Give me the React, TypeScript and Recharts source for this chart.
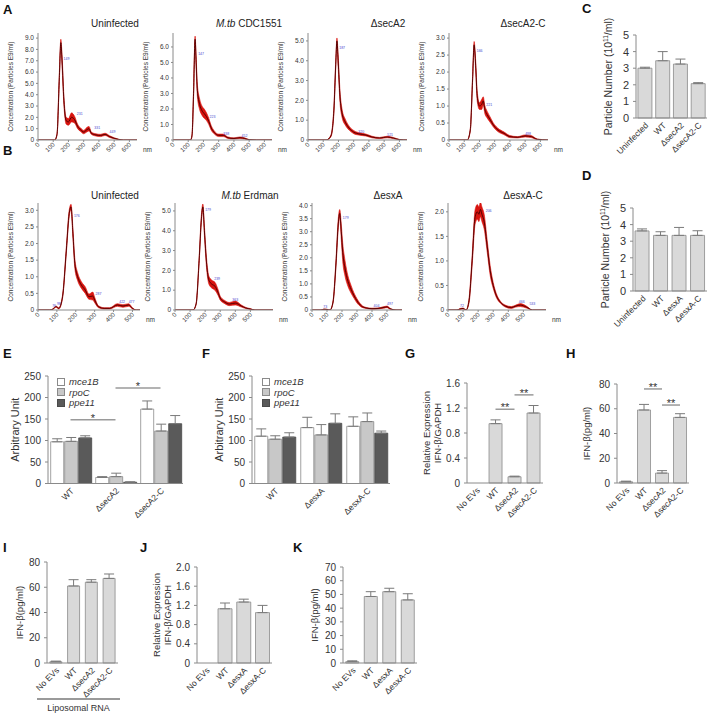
import React from "react";
import {
  Area,
  Bar,
  BarChart,
  ComposedChart,
  ErrorBar,
  Label,
  Line,
  ReferenceDot,
  ReferenceLine,
  XAxis,
  YAxis,
} from "recharts";

const FONT = "Arial, 'Liberation Sans', Helvetica, sans-serif";
const AXIS = "#8a8a8a";
const INK = "#333";
const BAND = "#d8140f";
const CORE = "#4a0000";
const PEAK = "#4848d0";
const BAR_FILL = "#d9d9d9";
const BAR_EDGE = "#8a8a8a";

// ---------- nanoparticle tracking traces: size (nm), mean, +/- spread ----------
const a1Nm = [0, 110, 125, 140, 150, 158, 170, 185, 200, 220, 240, 260, 280, 300, 320, 335, 350, 380, 410, 440, 470, 500, 530, 560, 650];
const a1Mean = [0, 0, 0.5, 5.5, 8.6, 7.0, 3.5, 1.7, 1.6, 2.0, 1.8, 1.2, 0.9, 0.7, 0.9, 1.0, 0.6, 0.45, 0.4, 0.5, 0.3, 0.15, 0.05, 0, 0];
const a1Spread = [0, 0, 0.1, 0.4, 0.3, 0.5, 0.4, 0.3, 0.3, 0.4, 0.3, 0.2, 0.15, 0.15, 0.2, 0.2, 0.1, 0.1, 0.1, 0.1, 0.08, 0.05, 0.02, 0, 0];
const a1Peaks: [number, number, string][] = [[168, 7.1, "149"], [255, 2.2, "231"], [370, 0.95, "331"], [470, 0.6, "449"]];

const a2Nm = [0, 115, 125, 135, 145, 152, 160, 175, 190, 205, 220, 235, 250, 270, 300, 330, 360, 400, 440, 470, 500, 550, 650];
const a2Mean = [0, 0, 0.3, 3.0, 6.5, 5.0, 3.2, 2.3, 1.9, 1.7, 1.5, 1.2, 0.8, 0.5, 0.3, 0.3, 0.15, 0.1, 0.15, 0.1, 0.02, 0, 0];
const a2Spread = [0, 0, 0.1, 0.3, 0.2, 0.4, 0.4, 0.35, 0.3, 0.3, 0.25, 0.2, 0.15, 0.1, 0.08, 0.08, 0.05, 0.04, 0.05, 0.04, 0.01, 0, 0];
const a2Peaks: [number, number, string][] = [[165, 5.5, "147"], [240, 1.4, "223"], [330, 0.35, "338"], [450, 0.2, "452"]];

const a3Nm = [0, 120, 150, 170, 182, 190, 198, 210, 225, 245, 270, 300, 340, 380, 420, 470, 520, 560, 600, 650];
const a3Mean = [0, 0, 0.2, 1.5, 3.8, 5.0, 4.0, 2.2, 1.3, 0.9, 0.6, 0.4, 0.3, 0.25, 0.15, 0.1, 0.15, 0.1, 0.02, 0];
const a3Spread = [0, 0, 0.05, 0.2, 0.2, 0.15, 0.3, 0.3, 0.2, 0.15, 0.1, 0.08, 0.06, 0.05, 0.04, 0.03, 0.04, 0.03, 0.01, 0];
const a3Peaks: [number, number, string][] = [[205, 4.6, "187"], [330, 0.35, "320"], [520, 0.2, "521"]];

const a4Nm = [0, 120, 140, 155, 165, 175, 185, 200, 215, 225, 235, 250, 270, 290, 320, 360, 400, 450, 500, 540, 580, 650];
const a4Mean = [0, 0, 0.3, 1.8, 2.8, 2.2, 1.3, 1.0, 1.05, 1.15, 0.9, 0.75, 0.6, 0.45, 0.3, 0.2, 0.1, 0.08, 0.12, 0.1, 0.02, 0];
const a4Spread = [0, 0, 0.05, 0.1, 0.1, 0.15, 0.15, 0.1, 0.15, 0.12, 0.12, 0.1, 0.08, 0.06, 0.05, 0.04, 0.03, 0.02, 0.03, 0.03, 0.01, 0];
const a4Peaks: [number, number, string][] = [[182, 2.6, "166"], [245, 1.0, "221"], [500, 0.15, "498"]];

const b1Nm = [0, 60, 80, 95, 110, 130, 150, 165, 175, 185, 195, 210, 230, 250, 270, 290, 300, 320, 350, 380, 420, 450, 480, 500, 520, 540];
const b1Mean = [0, 0, 0.03, 0.1, 0.05, 0.4, 1.8, 2.9, 3.1, 2.3, 1.4, 1.0, 0.75, 0.6, 0.4, 0.42, 0.3, 0.1, 0.05, 0.05, 0.15, 0.12, 0.15, 0.05, 0, 0];
const b1Spread = [0, 0, 0.01, 0.02, 0.02, 0.05, 0.1, 0.1, 0.08, 0.15, 0.15, 0.12, 0.1, 0.1, 0.08, 0.12, 0.08, 0.03, 0.02, 0.02, 0.04, 0.04, 0.04, 0.02, 0, 0];
const b1Peaks: [number, number, string][] = [[75, 0.08, "76"], [100, 0.15, "98"], [190, 2.8, "176"], [305, 0.45, "287"], [430, 0.2, "422"], [480, 0.22, "477"]];

const b2Nm = [0, 100, 120, 140, 160, 175, 185, 195, 210, 225, 245, 265, 285, 300, 330, 360, 400, 440, 470, 500, 530, 650];
const b2Mean = [0, 0, 0, 0.3, 2.5, 4.6, 5.2, 4.0, 2.3, 1.5, 1.3, 1.2, 0.9, 0.6, 0.4, 0.3, 0.35, 0.2, 0.1, 0.05, 0, 0];
const b2Spread = [0, 0, 0, 0.05, 0.15, 0.2, 0.15, 0.25, 0.25, 0.2, 0.2, 0.2, 0.15, 0.1, 0.08, 0.08, 0.1, 0.05, 0.03, 0.02, 0, 0];
const b2Peaks: [number, number, string][] = [[200, 5.0, "179"], [260, 1.5, "239"], [380, 0.45, "363"]];

const b3Nm = [0, 60, 80, 100, 120, 140, 160, 175, 185, 195, 205, 220, 240, 260, 280, 300, 330, 360, 400, 440, 480, 500, 520, 560, 600];
const b3Mean = [0, 0, 0.03, 0.02, 0, 0.3, 1.8, 3.3, 3.7, 3.0, 2.2, 1.6, 1.1, 0.8, 0.55, 0.35, 0.15, 0.08, 0.05, 0.06, 0.1, 0.12, 0.05, 0, 0];
const b3Spread = [0, 0, 0.01, 0.01, 0, 0.05, 0.15, 0.2, 0.15, 0.3, 0.35, 0.3, 0.2, 0.15, 0.1, 0.08, 0.04, 0.02, 0.02, 0.02, 0.03, 0.03, 0.02, 0, 0];
const b3Peaks: [number, number, string][] = [[75, 0.08, "73"], [205, 3.5, "179"], [410, 0.12, "404"], [500, 0.18, "497"]];

const b4Nm = [0, 60, 80, 100, 120, 140, 160, 180, 195, 205, 215, 225, 240, 260, 280, 300, 320, 350, 380, 420, 450, 480, 520, 560, 650];
const b4Mean = [0, 0, 0.02, 0.03, 0, 0.2, 1.0, 1.9, 2.0, 1.95, 2.05, 1.95, 1.8, 1.3, 0.8, 0.5, 0.3, 0.15, 0.08, 0.05, 0.08, 0.1, 0.06, 0, 0];
const b4Spread = [0, 0, 0.01, 0.01, 0, 0.05, 0.1, 0.15, 0.15, 0.15, 0.15, 0.15, 0.15, 0.12, 0.1, 0.06, 0.04, 0.02, 0.02, 0.02, 0.02, 0.03, 0.02, 0, 0];
const b4Peaks: [number, number, string][] = [[80, 0.06, "72"], [250, 2.0, "206"], [470, 0.14, "466"], [540, 0.1, "533"]];

const nmTicks600 = [0, 100, 200, 300, 400, 500, 600];
const nmTicks500 = [0, 100, 200, 300, 400, 500];
const a1Ticks = [0, 1, 2, 3, 4, 5, 6, 7, 8, 9];
const a2Ticks = [0, 1, 2, 3, 4, 5, 6];
const a3Ticks = [0, 1, 2, 3, 4, 5];
const a4Ticks = [0, 0.5, 1, 1.5, 2, 2.5, 3];
const b1Ticks = [0, 0.5, 1, 1.5, 2, 2.5, 3];
const b2Ticks = [0, 1, 2, 3, 4, 5];
const b3Ticks = [0, 0.5, 1, 1.5, 2, 2.5, 3, 3.5, 4];
const b4Ticks = [0, 0.5, 1, 1.5, 2];

// ---------- bar panels ----------
const secCats = ["Uninfected", "WT", "\u0394secA2", "\u0394secA2-C"];
const esxCats = ["Uninfected", "WT", "\u0394esxA", "\u0394esxA-C"];
const cVals = [3.0, 3.45, 3.25, 2.07];
const cErrs = [0.06, 0.55, 0.3, 0.06];
const dVals = [3.62, 3.35, 3.35, 3.35];
const dErrs = [0.12, 0.22, 0.48, 0.28];
const particleTicks = [0, 1, 2, 3, 4, 5];

const eCats = ["WT", "\u0394secA2", "\u0394secA2-C"];
const eMce1B = [97, 14, 173];
const eMce1BErr = [7, 2, 19];
const eRpoC = [98, 16, 122];
const eRpoCErr = [9, 8, 16];
const ePpe11 = [106, 3, 139];
const ePpe11Err = [5, 1, 19];

const fCats = ["WT", "\u0394esxA", "\u0394esxA-C"];
const fMce1B = [110, 130, 133];
const fMce1BErr = [17, 24, 22];
const fRpoC = [103, 113, 144];
const fRpoCErr = [8, 24, 20];
const fPpe11 = [108, 140, 117];
const fPpe11Err = [10, 22, 5];
const geneTicks = [0, 50, 100, 150, 200, 250];
const geneNames = ["mce1B", "rpoC", "ppe11"];

const gCats = ["No EVs", "WT", "\u0394secA2", "\u0394secA2-C"];
const gVals = [0, 0.95, 0.1, 1.12];
const gErrs = [0, 0.06, 0.01, 0.12];
const gTicks = [0, 0.4, 0.8, 1.2, 1.6];

const hVals = [1, 59, 8, 53];
const hErrs = [0.5, 4.5, 2, 3];
const hTicks = [0, 20, 40, 60, 80];

const iVals = [1, 61, 64, 67];
const iErrs = [0.5, 5, 2, 3.5];

const jCats = ["No EVs", "WT", "\u0394esxA", "\u0394esxA-C"];
const jVals = [0, 1.13, 1.27, 1.05];
const jErrs = [0, 0.12, 0.06, 0.15];
const jTicks = [0, 0.4, 0.8, 1.2, 1.6, 2.0];

const kVals = [1, 48.5, 52, 46];
const kErrs = [0.6, 3.5, 2.5, 4.5];
const kTicks = [0, 10, 20, 30, 40, 50, 60, 70];

// ---------- helpers ----------
const dec1 = (v: number) => (v === 0 ? "0" : v.toFixed(1));

const vTitle = (lines: React.ReactNode[], cx: number, fs: number) => (props: any) => {
  const vb = props.viewBox || { x: 0, y: 0, width: 0, height: 0 };
  const cy = vb.y + vb.height / 2;
  const lh = fs * 1.15;
  return (
    <text
      x={cx}
      y={cy}
      transform={`rotate(-90 ${cx} ${cy})`}
      textAnchor="middle"
      fontSize={fs}
      fill={INK}
      fontFamily={FONT}
    >
      {lines.map((l, i) => (
        <tspan key={i} x={cx} dy={i === 0 ? -((lines.length - 1) * lh) / 2 + fs * 0.35 : lh}>
          {l}
        </tspan>
      ))}
    </text>
  );
};

const SlantTick = (props: any) => {
  const { x, y, payload, fs = 9, dx = 0, dy = 0 } = props;
  const px = x + dx;
  const py = y + dy;
  return (
    <text
      x={px}
      y={py}
      transform={`rotate(-45 ${px} ${py})`}
      textAnchor="end"
      fontSize={fs}
      fill={INK}
      fontFamily={FONT}
    >
      {payload.value}
    </text>
  );
};

const starLabel = (txt: string) => (props: any) => {
  const vb = props.viewBox || { x: 0, y: 0, width: 0 };
  return (
    <text x={vb.x + vb.width / 2} y={vb.y + 2} textAnchor="middle" fontSize={11} fill={INK} fontFamily={FONT}>
      {txt}
    </text>
  );
};

function Abs({ x, y, children, style }: { x: number; y: number; children: React.ReactNode; style?: React.CSSProperties }) {
  return <div style={{ position: "absolute", left: x, top: y, whiteSpace: "nowrap", ...style }}>{children}</div>;
}

type NtaProps = {
  axisX: number;
  plotTop: number;
  plotW: number;
  plotH: number;
  xMax: number;
  xTicks: number[];
  yMax: number;
  yTicks: number[];
  nm: number[];
  mean: number[];
  spread: number[];
  peaks: [number, number, string][];
};

function NtaPanel(p: NtaProps) {
  const yW = 36;
  const mt = 3;
  const mr = 4;
  const xH = 24;
  const rows = p.nm.map((x, i) => ({
    nm: x,
    mean: p.mean[i],
    band: [Math.max(0, p.mean[i] - p.spread[i]), p.mean[i] + p.spread[i]],
  }));
  return (
    <div style={{ position: "absolute", left: p.axisX - yW, top: p.plotTop - mt }}>
      <ComposedChart
        width={yW + p.plotW + mr}
        height={mt + p.plotH + xH}
        data={rows}
        margin={{ top: mt, right: mr, bottom: 0, left: 0 }}
      >
        <XAxis
          type="number"
          dataKey="nm"
          domain={[0, p.xMax]}
          ticks={p.xTicks}
          interval={0}
          height={xH}
          tickSize={2}
          axisLine={{ stroke: AXIS }}
          tickLine={{ stroke: AXIS }}
          tick={<SlantTick fs={6.3} dx={2} dy={1} />}
        />
        <YAxis
          type="number"
          domain={[0, p.yMax]}
          ticks={p.yTicks}
          interval={0}
          width={yW}
          tickSize={2}
          allowDataOverflow
          axisLine={{ stroke: AXIS }}
          tickLine={{ stroke: AXIS }}
          tickFormatter={dec1}
          tick={{ fontSize: 6.5, fill: INK, fontFamily: FONT }}
        >
          <Label content={vTitle(["Concentration (Particles E9/ml)"], 9, 6.5)} />
        </YAxis>
        <Area
          dataKey="band"
          type="monotone"
          fill={BAND}
          fillOpacity={1}
          stroke={BAND}
          strokeWidth={0.6}
          isAnimationActive={false}
        />
        <Line dataKey="mean" type="monotone" stroke={CORE} strokeWidth={0.9} dot={false} isAnimationActive={false} />
        {p.peaks.map((pk, i) => (
          <ReferenceDot
            key={i}
            x={pk[0]}
            y={pk[1]}
            r={0}
            shape={(s: any) => (
              <text x={s.cx} y={s.cy} fontSize={3.5} fill={PEAK} fontFamily={FONT}>
                {pk[2]}
              </text>
            )}
          />
        ))}
      </ComposedChart>
      <div
        style={{
          position: "absolute",
          left: yW + p.plotW + 6,
          top: mt + p.plotH + 6,
          fontSize: 6.5,
          color: INK,
          fontFamily: FONT,
        }}
      >
        nm
      </div>
    </div>
  );
}

type Series = { key: string; values: number[]; errors: number[]; fill: string; stroke: string };
type Sig = { from: string; to: string; y: number; text: string };

type BarProps = {
  axisX: number;
  plotTop: number;
  plotW: number;
  plotH: number;
  cats: string[];
  series: Series[];
  yMax: number;
  yTicks: number[];
  fmt?: (v: number) => string;
  yLabel: React.ReactNode[];
  yLabelX: number;
  yLabelFs?: number;
  sig?: Sig[];
  gap: string;
  catFs?: number;
  tickFs?: number;
  capW?: number;
  top?: number;
};

function BarPanel(p: BarProps) {
  const yW = 50;
  const mt = p.top ?? 8;
  const mr = 4;
  const xH = 60;
  const data = p.cats.map((c, i) => {
    const row: Record<string, any> = { cat: c };
    p.series.forEach((s) => {
      row[s.key] = s.values[i];
      row[s.key + "Err"] = [0, s.errors[i]];
    });
    return row;
  });
  const left = p.axisX - yW;
  return (
    <div style={{ position: "absolute", left, top: p.plotTop - mt }}>
      <BarChart
        width={yW + p.plotW + mr}
        height={mt + p.plotH + xH}
        data={data}
        margin={{ top: mt, right: mr, bottom: 0, left: 0 }}
        barCategoryGap={p.gap}
        barGap={1}
      >
        <XAxis
          dataKey="cat"
          interval={0}
          height={xH}
          tickLine={false}
          tickSize={0}
          tickMargin={4}
          axisLine={{ stroke: AXIS }}
          tick={<SlantTick fs={p.catFs ?? 9} dx={4} dy={4} />}
        />
        <YAxis
          type="number"
          domain={[0, p.yMax]}
          ticks={p.yTicks}
          interval={0}
          width={yW}
          tickSize={3}
          tickMargin={4}
          axisLine={{ stroke: AXIS }}
          tickLine={{ stroke: AXIS }}
          tickFormatter={p.fmt}
          tick={{ fontSize: p.tickFs ?? 10, fill: INK, fontFamily: FONT }}
        >
          <Label content={vTitle(p.yLabel, p.yLabelX - left, p.yLabelFs ?? 10)} />
        </YAxis>
        {p.series.map((s) => (
          <Bar key={s.key} dataKey={s.key} fill={s.fill} stroke={s.stroke} strokeWidth={0.8} isAnimationActive={false}>
            <ErrorBar dataKey={s.key + "Err"} width={p.capW ?? 5} stroke="#7a7a7a" strokeWidth={1} />
          </Bar>
        ))}
        {(p.sig || []).map((s, i) => (
          <ReferenceLine
            key={i}
            segment={[
              { x: s.from, y: s.y },
              { x: s.to, y: s.y },
            ]}
            stroke="#9a9a9a"
            strokeWidth={1.5}
            ifOverflow="visible"
            label={starLabel(s.text)}
          />
        ))}
      </BarChart>
    </div>
  );
}

const single = (values: number[], errors: number[]): Series[] => [
  { key: "v", values, errors, fill: BAR_FILL, stroke: BAR_EDGE },
];

const geneColors = [
  { fill: "#ffffff", stroke: "#8a8a8a" },
  { fill: "#c8c8c8", stroke: "#8a8a8a" },
  { fill: "#5a5a5a", stroke: "#4a4a4a" },
];

function GeneLegend({ x, y }: { x: number; y: number }) {
  return (
    <>
      {geneNames.map((g, i) => (
        <Abs key={g} x={x} y={y + i * 10.5}>
          <span
            style={{
              display: "inline-block",
              width: 6,
              height: 6,
              background: geneColors[i].fill,
              border: `1px solid ${geneColors[i].stroke}`,
              marginRight: 4,
              verticalAlign: "middle",
            }}
          />
          <span style={{ fontSize: 9.5, fontStyle: "italic", color: INK, fontFamily: FONT, verticalAlign: "middle" }}>{g}</span>
        </Abs>
      ))}
    </>
  );
}

const particleLabel = [
  <>
    Particle Number (10
    <tspan dy={-3.5} fontSize={6.5}>
      11
    </tspan>
    <tspan dy={3.5}>/ml)</tspan>
  </>,
];

const letter = (t: string, x: number, y: number) => (
  <Abs x={x} y={y} style={{ fontSize: 13, fontWeight: 700, fontFamily: FONT, color: "#111" }}>
    {t}
  </Abs>
);

const title = (content: React.ReactNode, cx: number, y: number) => (
  <Abs x={cx - 60} y={y} style={{ width: 120, textAlign: "center", fontSize: 10, fontFamily: FONT, color: "#222" }}>
    {content}
  </Abs>
);

export default function App() {
  const A_TOP = 33;
  const A_H = 107;
  const B_TOP = 203;
  const B_H = 107;
  return (
    <div
      style={{
        position: "absolute",
        left: 0,
        top: 0,
        width: 707,
        height: 715,
        background: "#fff",
        fontFamily: FONT,
        overflow: "hidden",
      }}
    >
      {letter("A", 3, 2)}
      {letter("B", 3, 143)}
      {letter("C", 582, 1)}
      {letter("D", 582, 168)}
      {letter("E", 3, 346)}
      {letter("F", 202, 346)}
      {letter("G", 405, 346)}
      {letter("H", 566, 346)}
      {letter("I", 3, 540)}
      {letter("J", 140, 540)}
      {letter("K", 293, 540)}

      {title("Uninfected", 115, 18)}
      {title(<><i>M.tb</i> CDC1551</>, 249, 18)}
      {title("\u0394secA2", 388, 18)}
      {title("\u0394secA2-C", 523, 18)}
      {title("Uninfected", 115, 190)}
      {title(<><i>M.tb</i> Erdman</>, 250, 190)}
      {title("\u0394esxA", 388, 190)}
      {title("\u0394esxA-C", 523, 190)}

      <NtaPanel axisX={38} plotTop={A_TOP} plotW={99} plotH={A_H} xMax={650} xTicks={nmTicks600} yMax={9.45} yTicks={a1Ticks} nm={a1Nm} mean={a1Mean} spread={a1Spread} peaks={a1Peaks} />
      <NtaPanel axisX={173} plotTop={A_TOP} plotW={99} plotH={A_H} xMax={650} xTicks={nmTicks600} yMax={6.9} yTicks={a2Ticks} nm={a2Nm} mean={a2Mean} spread={a2Spread} peaks={a2Peaks} />
      <NtaPanel axisX={308} plotTop={A_TOP} plotW={99} plotH={A_H} xMax={650} xTicks={nmTicks600} yMax={5.4} yTicks={a3Ticks} nm={a3Nm} mean={a3Mean} spread={a3Spread} peaks={a3Peaks} />
      <NtaPanel axisX={449} plotTop={A_TOP} plotW={99} plotH={A_H} xMax={650} xTicks={nmTicks600} yMax={3.15} yTicks={a4Ticks} nm={a4Nm} mean={a4Mean} spread={a4Spread} peaks={a4Peaks} />

      <NtaPanel axisX={38} plotTop={B_TOP} plotW={102} plotH={B_H} xMax={540} xTicks={nmTicks500} yMax={3.22} yTicks={b1Ticks} nm={b1Nm} mean={b1Mean} spread={b1Spread} peaks={b1Peaks} />
      <NtaPanel axisX={175} plotTop={B_TOP} plotW={98} plotH={B_H} xMax={650} xTicks={nmTicks500} yMax={5.4} yTicks={b2Ticks} nm={b2Nm} mean={b2Mean} spread={b2Spread} peaks={b2Peaks} />
      <NtaPanel axisX={312} plotTop={B_TOP} plotW={90} plotH={B_H} xMax={600} xTicks={nmTicks500} yMax={4.1} yTicks={b3Ticks} nm={b3Nm} mean={b3Mean} spread={b3Spread} peaks={b3Peaks} />
      <NtaPanel axisX={448} plotTop={B_TOP} plotW={98} plotH={B_H} xMax={650} xTicks={nmTicks500} yMax={2.18} yTicks={b4Ticks} nm={b4Nm} mean={b4Mean} spread={b4Spread} peaks={b4Peaks} />

      <BarPanel axisX={636} plotTop={35} plotW={71} plotH={83} top={34} cats={secCats} series={single(cVals, cErrs)} yMax={5} yTicks={particleTicks} yLabel={particleLabel} yLabelX={608} yLabelFs={10.5} gap="11%" catFs={8.5} tickFs={11} />
      <BarPanel axisX={633} plotTop={208} plotW={74} plotH={83} top={34} cats={esxCats} series={single(dVals, dErrs)} yMax={5} yTicks={particleTicks} yLabel={particleLabel} yLabelX={605} yLabelFs={10.5} gap="11%" catFs={8.5} tickFs={11} />

      <BarPanel
        axisX={48}
        plotTop={376}
        plotW={135}
        plotH={107.5}
        cats={eCats}
        series={[
          { key: "mce1B", values: eMce1B, errors: eMce1BErr, ...geneColors[0] },
          { key: "rpoC", values: eRpoC, errors: eRpoCErr, ...geneColors[1] },
          { key: "ppe11", values: ePpe11, errors: ePpe11Err, ...geneColors[2] },
        ]}
        yMax={250}
        yTicks={geneTicks}
        yLabel={["Arbitrary Unit"]}
        yLabelX={15}
        yLabelFs={11}
        gap="6%"
        sig={[
          { from: eCats[0], to: eCats[1], y: 148, text: "*" },
          { from: eCats[1], to: eCats[2], y: 222, text: "*" },
        ]}
        catFs={8.5}
      />
      <GeneLegend x={57} y={372} />
      <BarPanel
        axisX={252}
        plotTop={376}
        plotW={138}
        plotH={107.5}
        cats={fCats}
        series={[
          { key: "mce1B", values: fMce1B, errors: fMce1BErr, ...geneColors[0] },
          { key: "rpoC", values: fRpoC, errors: fRpoCErr, ...geneColors[1] },
          { key: "ppe11", values: fPpe11, errors: fPpe11Err, ...geneColors[2] },
        ]}
        yMax={250}
        yTicks={geneTicks}
        yLabel={["Arbitrary Unit"]}
        yLabelX={219}
        yLabelFs={11}
        gap="6%"
        catFs={8.5}
      />
      <GeneLegend x={262} y={372} />

      <BarPanel
        axisX={467}
        plotTop={383}
        plotW={76}
        plotH={100}
        cats={gCats}
        series={single(gVals, gErrs)}
        yMax={1.6}
        yTicks={gTicks}
        fmt={dec1}
        yLabel={["Relative Expression", "IFN-\u03b2/GAPDH"]}
        yLabelX={432}
        yLabelFs={9.5}
        gap="16%"
        sig={[
          { from: gCats[1], to: gCats[2], y: 1.18, text: "**" },
          { from: gCats[2], to: gCats[3], y: 1.41, text: "**" },
        ]}
        catFs={8.5}
      />
      <BarPanel
        axisX={617}
        plotTop={384}
        plotW={72}
        plotH={99}
        cats={gCats}
        series={single(hVals, hErrs)}
        yMax={80}
        yTicks={hTicks}
        yLabel={["IFN-\u03b2(pg/ml)"]}
        yLabelX={587}
        yLabelFs={9.5}
        gap="14%"
        sig={[
          { from: gCats[1], to: gCats[2], y: 76, text: "**" },
          { from: gCats[2], to: gCats[3], y: 63, text: "**" },
        ]}
        catFs={8.5}
      />

      <BarPanel
        axisX={47}
        plotTop={562}
        plotW={71}
        plotH={101}
        cats={gCats}
        series={single(iVals, iErrs)}
        yMax={80}
        yTicks={hTicks}
        yLabel={["IFN-\u03b2(pg/ml)"]}
        yLabelX={20}
        yLabelFs={9.5}
        gap="16%"
        catFs={8.5}
      />
      <div style={{ position: "absolute", left: 37, top: 698, width: 83, height: 2, background: "#9a9a9a" }} />
      <Abs x={37} y={703} style={{ width: 83, textAlign: "center", fontSize: 9, color: INK, fontFamily: FONT }}>
        Liposomal RNA
      </Abs>
      <BarPanel
        axisX={197}
        plotTop={567}
        plotW={75}
        plotH={96}
        cats={jCats}
        series={single(jVals, jErrs)}
        yMax={2.0}
        yTicks={jTicks}
        fmt={dec1}
        yLabel={["Relative Expression", "IFN-\u03b2/GAPDH"]}
        yLabelX={162}
        yLabelFs={9.5}
        gap="12%"
        catFs={8.5}
      />
      <BarPanel
        axisX={343}
        plotTop={567}
        plotW={74}
        plotH={96}
        cats={jCats}
        series={single(kVals, kErrs)}
        yMax={70}
        yTicks={kTicks}
        yLabel={["IFN-\u03b2(pg/ml)"]}
        yLabelX={315}
        yLabelFs={9.5}
        gap="15%"
        catFs={8.5}
      />
    </div>
  );
}
